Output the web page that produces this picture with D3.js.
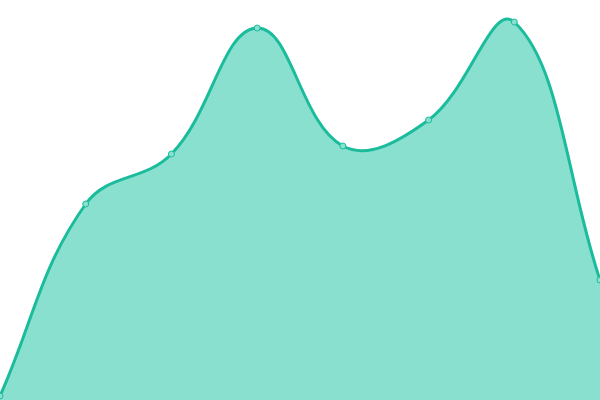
<!DOCTYPE html>
<html>
<head>
<meta charset="utf-8">
<script src="https://cdn.jsdelivr.net/npm/d3@7"></script>
<style>
  html, body { margin: 0; padding: 0; background: #fff; }
  svg { display: block; }
</style>
</head>
<body>
<div id="grafiek"></div>
<script>
const CATEGORIES = ['A', 'B', 'C', 'D', 'E', 'F', 'G', 'H'];
const VALUES = [1, 49, 61.5, 93, 63.5, 70, 94.5, 30];
const Y_DOMAIN = [0, 100];

const breedte = 600;
const hoogte = 400;

// spline met spanning, controlepunten gewogen naar afstand tussen punten
function splineKromme(spanning, grens) {
    return function(context) {
        return {
            _punten: [],
            _line: NaN,
            areaStart() { this._line = 0; },
            areaEnd() { this._line = NaN; },
            lineStart() { this._punten = []; },
            point(x, y) { this._punten.push([+x, +y]); },
            lineEnd() {
                const p = this._punten;
                const n = p.length;
                if (n) {
                    if (this._line) context.lineTo(p[0][0], p[0][1]);
                    else context.moveTo(p[0][0], p[0][1]);
                }
                const klem = (v, lo, hi) => Math.max(lo, Math.min(hi, v));
                const ctrl = p.map((cur, i) => {
                    const prev = p[i - 1] || cur;
                    const next = p[i + 1] || cur;
                    const d01 = Math.hypot(cur[0] - prev[0], cur[1] - prev[1]);
                    const d12 = Math.hypot(next[0] - cur[0], next[1] - cur[1]);
                    let s01 = d01 / (d01 + d12);
                    let s12 = d12 / (d01 + d12);
                    if (isNaN(s01)) s01 = 0;
                    if (isNaN(s12)) s12 = 0;
                    const fa = spanning * s01;
                    const fb = spanning * s12;
                    const dx = next[0] - prev[0];
                    const dy = next[1] - prev[1];
                    return {
                        voor: [klem(cur[0] - fa * dx, grens[0], grens[2]), klem(cur[1] - fa * dy, grens[1], grens[3])],
                        na: [klem(cur[0] + fb * dx, grens[0], grens[2]), klem(cur[1] + fb * dy, grens[1], grens[3])],
                    };
                });
                for (let i = 1; i < n; i++) {
                    const a = ctrl[i - 1].na;
                    const b = ctrl[i].voor;
                    context.bezierCurveTo(a[0], a[1], b[0], b[1], p[i][0], p[i][1]);
                }
                if (this._line || (this._line !== 0 && n === 1)) context.closePath();
                this._line = 1 - this._line;
            },
        };
    };
}

const svg = d3.select('#grafiek').append('svg')
    .attr('width', breedte)
    .attr('height', hoogte);

const xSchaal = d3.scalePoint()
    .domain(CATEGORIES)
    .range([0, breedte]);

const ySchaal = d3.scaleLinear()
    .domain(Y_DOMAIN)
    .range([hoogte, 0]);

const punten = CATEGORIES.map((c, i) => ({ c, v: VALUES[i] }));

const kromme = splineKromme(0.4, [0, 0, breedte, hoogte]);

const vlak = d3.area()
    .x(d => xSchaal(d.c))
    .y0(hoogte)
    .y1(d => ySchaal(d.v))
    .curve(kromme);

const lijn = d3.line()
    .x(d => xSchaal(d.c))
    .y(d => ySchaal(d.v))
    .curve(kromme);

svg.append('path')
    .datum(punten)
    .attr('d', vlak)
    .attr('fill', '#8ae0cf');

svg.append('path')
    .datum(punten)
    .attr('d', lijn)
    .attr('fill', 'none')
    .attr('stroke', '#1abc9c')
    .attr('stroke-width', 3);

svg.selectAll('circle')
    .data(punten)
    .join('circle')
    .attr('cx', d => xSchaal(d.c))
    .attr('cy', d => ySchaal(d.v))
    .attr('r', 3)
    .attr('fill', '#8ae0cf')
    .attr('stroke', '#1abc9c')
    .attr('stroke-width', 1);
</script>
</body>
</html>
